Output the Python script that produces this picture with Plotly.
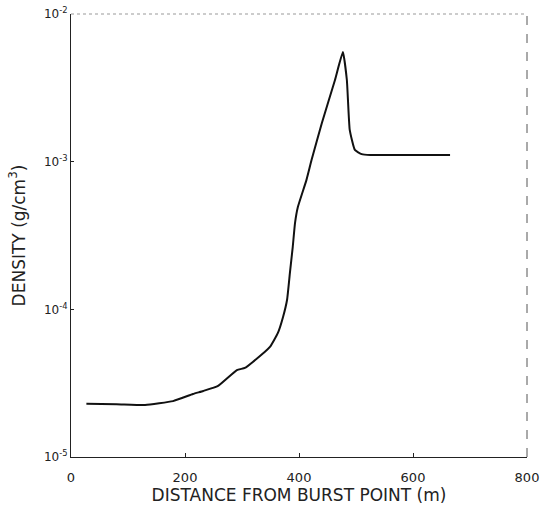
import plotly.graph_objects as go

# Distance from burst point (m) and density (g/cm^3)
distance = [27, 80, 130, 179, 214, 232, 258, 291, 305, 319, 349, 363, 372, 379,
            384, 389, 393, 398, 413, 422, 440, 463, 477, 484, 489, 498, 510, 525, 600, 665]
density = [2.29e-5, 2.28e-5, 2.25e-5, 2.39e-5, 2.67e-5, 2.80e-5, 3.03e-5, 3.88e-5,
           4.01e-5, 4.40e-5, 5.56e-5, 6.92e-5, 8.87e-5, 1.156e-4, 1.76e-4, 2.64e-4,
           3.84e-4, 4.93e-4, 7.50e-4, 1.025e-3, 1.82e-3, 3.56e-3, 5.52e-3, 3.56e-3,
           1.64e-3, 1.20e-3, 1.125e-3, 1.11e-3, 1.11e-3, 1.11e-3]

x_ticks = [0, 200, 400, 600, 800]
y_ticks = [1e-5, 1e-4, 1e-3, 1e-2]
y_tick_labels = ["10<sup>-5</sup>", "10<sup>-4</sup>", "10<sup>-3</sup>", "10<sup>-2</sup>"]

ink = "#222222"
font = "DejaVu Sans, Arial, sans-serif"

fig = go.Figure()
fig.add_trace(go.Scatter(x=distance, y=density, mode="lines",
                         line=dict(color="#111111", width=2, shape="spline", smoothing=0.4),
                         showlegend=False))

fig.update_layout(
    width=541, height=510,
    margin=dict(l=71, r=14, t=14, b=53),
    paper_bgcolor="white", plot_bgcolor="white",
    font=dict(family=font, color=ink, size=13),
    xaxis=dict(range=[0, 800], tickvals=x_ticks, ticks="inside", ticklen=4,
               tickcolor=ink, showgrid=False, zeroline=False, automargin=False,
               showline=True, linecolor=ink, linewidth=1, ticklabelstandoff=8,
               tickfont=dict(size=13, color=ink),
               title=dict(text="DISTANCE FROM BURST POINT (m)",
                          font=dict(size=17, color=ink), standoff=4)),
    yaxis=dict(type="log", range=[-5, -2], tickvals=y_ticks, ticktext=y_tick_labels,
               ticks="inside", ticklen=3, tickcolor=ink, showgrid=False, automargin=False,
               zeroline=False, showline=True, linecolor=ink, linewidth=1,
               tickfont=dict(size=12, color=ink),
               title=dict(text="DENSITY (g/cm<sup>3</sup>)",
                          font=dict(size=17, color=ink), standoff=14)),
)

# dashed right and top frame (as in the scanned original)
fig.add_shape(type="line", xref="paper", yref="paper", x0=1, x1=1, y0=0, y1=1,
              line=dict(color="#555555", width=1, dash="dash"))
fig.add_shape(type="line", xref="paper", yref="paper", x0=0, x1=1, y0=1, y1=1,
              line=dict(color="#999999", width=1, dash="dot"))

fig.write_html("out.html")
